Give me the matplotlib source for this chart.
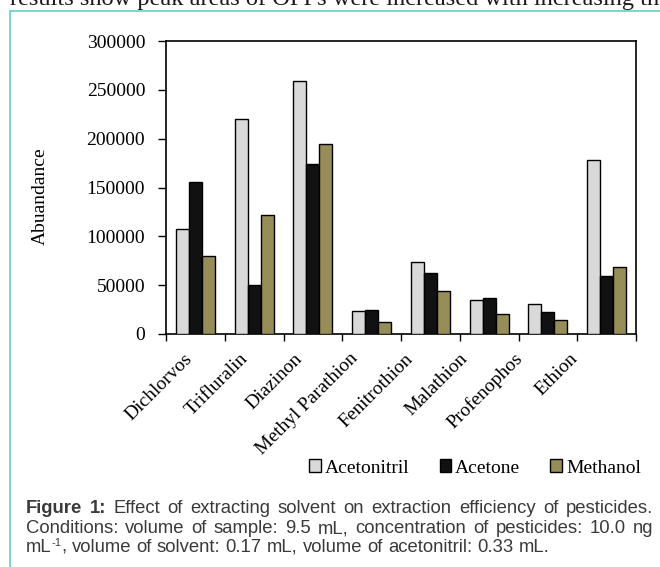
import matplotlib
matplotlib.use("Agg")
import matplotlib.pyplot as plt
import numpy as np
from matplotlib.patches import Patch, Rectangle

categories = ["Dichlorvos", "Trifluralin", "Diazinon", "Methyl Parathion",
              "Fenitrothion", "Malathion", "Profenophos", "Ethion"]
acetonitril = [107000, 220000, 259000, 24000, 74000, 35000, 31000, 178000]
acetone = [156000, 50000, 174000, 25000, 62000, 37000, 23000, 59000]
methanol = [80000, 122000, 195000, 12000, 44000, 20000, 14000, 69000]
series_names = ["Acetonitril", "Acetone", "Methanol"]
series_colors = ["#d9d9d9", "#111111", "#978d58"]
yticks = [0, 50000, 100000, 150000, 200000, 250000, 300000]

W, H = 660, 567
fig = plt.figure(figsize=(W / 100, H / 100), dpi=100)
fig.patch.set_facecolor("white")

def fx(px):
    return px / W

def fy(py):
    return 1 - py / H

# page text above the box (partially cut)
fig.text(fx(10), fy(5), "results show peak areas of OPPs were increased with increasing the",
         family="Liberation Serif", fontsize=17.6, va="baseline", ha="left", color="#1a1a1a")

# teal box
fig.patches.append(Rectangle((fx(10), fy(700)), 2.0, fy(11) - fy(700),
                             transform=fig.transFigure, fill=False,
                             edgecolor="#63d1c1", linewidth=1.2, clip_on=False))

ax = fig.add_axes([fx(166), fy(334), fx(636) - fx(166), fy(41) - fy(334)])
x = np.arange(len(categories)) + 0.5
bw = 0.222
for i, (vals, col) in enumerate(zip([acetonitril, acetone, methanol], series_colors)):
    ax.bar(x + (i - 1) * bw, vals, width=bw, color=col, edgecolor="black", linewidth=1.0,
           zorder=3)

ax.set_xlim(0, len(categories))
ax.set_ylim(0, 300000)
ax.set_yticks(yticks)
ax.set_yticklabels([str(v) for v in yticks], family="Liberation Serif", fontsize=14)
ax.set_xticks(np.arange(len(categories) + 1))
ax.set_xticklabels([])
# label anchors as placed in the reference (slightly tighter spacing than the bars)
label_pos = 0.41 + np.arange(len(categories)) * 0.936
ax.set_xticks(label_pos, minor=True)
ax.set_xticklabels(categories, minor=True, rotation=45, ha="right", va="center",
                   rotation_mode="anchor", family="Liberation Serif", fontsize=14)
ax.tick_params(axis="x", which="major", direction="out", length=5, width=1.0)
ax.tick_params(axis="x", which="minor", length=0, pad=16)
ax.tick_params(axis="y", direction="out", length=6, width=1.0, pad=9)
for s in ax.spines.values():
    s.set_linewidth(1.2)
    s.set_color("black")
ax.set_ylabel("Abuandance", family="Liberation Serif", fontsize=14)
ax.yaxis.set_label_coords(-0.25, 0.47)

handles = [Patch(facecolor=c, edgecolor="black", linewidth=1.0) for c in series_colors]
fig.legend(handles, series_names, loc="center", bbox_to_anchor=(fx(475), fy(468)),
           ncol=3, frameon=False, prop={"family": "Liberation Serif", "size": 14},
           handlelength=0.6, handleheight=0.6, handletextpad=0.2, columnspacing=1.55,
           borderpad=0)

# caption with justification
renderer = fig.canvas.get_renderer()
cap_color = "#3a3a3a"
cap_size = 13.3

def piece_text(p, xpx, ybase):
    txt, wt, size, dy = p
    return fig.text(fx(xpx), fy(ybase - dy), txt, family="Liberation Sans", fontsize=size,
                    weight=wt, color=cap_color, va="baseline", ha="left")

def draw_line(words, x0, x1, ybase, justify):
    word_objs = []
    word_w = []
    for pieces in words:
        objs = [piece_text(p, x0, ybase) for p in pieces]
        ws = [o.get_window_extent(renderer).width for o in objs]
        word_objs.append((objs, ws))
        word_w.append(sum(ws))
    a = fig.text(0, 0, "x x", family="Liberation Sans", fontsize=cap_size)
    b = fig.text(0, 0, "xx", family="Liberation Sans", fontsize=cap_size)
    space = a.get_window_extent(renderer).width - b.get_window_extent(renderer).width
    a.remove(); b.remove()
    if justify and len(words) > 1:
        gap = (x1 - x0 - sum(word_w)) / (len(words) - 1)
    else:
        gap = space
    cur = x0
    for (objs, ws), tw in zip(word_objs, word_w):
        c = cur
        for o, w in zip(objs, ws):
            o.set_x(fx(c))
            c += w
        cur += tw + gap

def plain(text, wt="normal"):
    return [[(w, wt, cap_size, 0)] for w in text.split()]

line1 = plain("Figure 1:", "bold") + plain(
    "Effect of extracting solvent on extraction efficiency of pesticides.")
line2 = plain("Conditions: volume of sample: 9.5 mL, concentration of pesticides: 10.0 ng")
line3 = [[("mL", "normal", cap_size, 0), ("-1", "normal", 8, 5.5),
          (",", "normal", cap_size, 0)]] + plain(
    "volume of solvent: 0.17 mL, volume of acetonitril: 0.33 mL.")
draw_line(line1, 26, 653, 513, True)
draw_line(line2, 26, 653, 533, True)
draw_line(line3, 26, 653, 552, False)

fig.savefig("out.png", dpi=100)
